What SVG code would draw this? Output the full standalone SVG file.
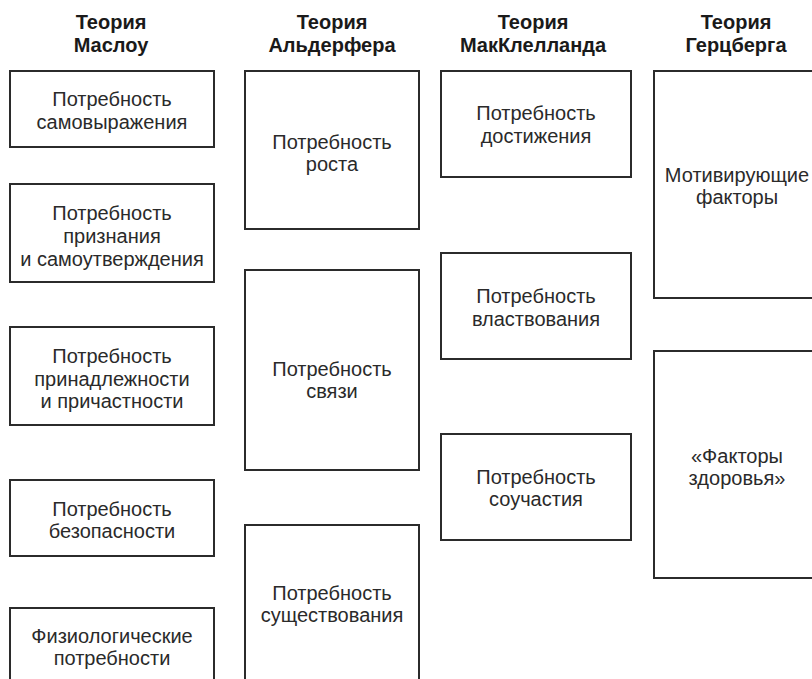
<svg xmlns="http://www.w3.org/2000/svg" width="812" height="679" viewBox="0 0 812 679">
<style>
  .box { fill: #ffffff; stroke: #2b2b2b; stroke-width: 2; }
  .t { font-family: "Liberation Sans", Arial, sans-serif; font-size: 20px; fill: #2a2a2a; text-anchor: middle; }
  .h { font-family: "Liberation Sans", Arial, sans-serif; font-size: 20px; font-weight: bold; fill: #1a1a1a; text-anchor: middle; }
</style>
<rect x="0" y="0" width="812" height="679" fill="#ffffff"/>
<g id="headers">
  <text class="h" x="111" y="29">Теория</text>
  <text class="h" x="111" y="52">Маслоу</text>
  <text class="h" x="332" y="29">Теория</text>
  <text class="h" x="332" y="52">Альдерфера</text>
  <text class="h" x="533" y="29">Теория</text>
  <text class="h" x="533" y="52">МакКлелланда</text>
  <text class="h" x="736" y="29">Теория</text>
  <text class="h" x="736" y="52">Герцберга</text>
</g>
<g id="connectors"></g>
<g id="maslow-1">
  <rect class="box" x="10" y="71" width="204" height="76"/>
  <text class="t" x="112" y="106">Потребность</text>
  <text class="t" x="112" y="128.5">самовыражения</text>
</g>
<g id="maslow-2">
  <rect class="box" x="10" y="184" width="204" height="98"/>
  <text class="t" x="112" y="219.5">Потребность</text>
  <text class="t" x="112" y="242.5">признания</text>
  <text class="t" x="112" y="265.5">и самоутверждения</text>
</g>
<g id="maslow-3">
  <rect class="box" x="10" y="327" width="204" height="98"/>
  <text class="t" x="112" y="363">Потребность</text>
  <text class="t" x="112" y="385.5">принадлежности</text>
  <text class="t" x="112" y="408">и причастности</text>
</g>
<g id="maslow-4">
  <rect class="box" x="10" y="480" width="204" height="76"/>
  <text class="t" x="112" y="515.5">Потребность</text>
  <text class="t" x="112" y="538">безопасности</text>
</g>
<g id="maslow-5">
  <rect class="box" x="10" y="608" width="204" height="90"/>
  <text class="t" x="112" y="642.5">Физиологические</text>
  <text class="t" x="112" y="665">потребности</text>
</g>
<g id="alderfer-1">
  <rect class="box" x="245" y="71" width="174" height="158"/>
  <text class="t" x="332" y="148.5">Потребность</text>
  <text class="t" x="332" y="170.5">роста</text>
</g>
<g id="alderfer-2">
  <rect class="box" x="245" y="270" width="174" height="200"/>
  <text class="t" x="332" y="375.5">Потребность</text>
  <text class="t" x="332" y="397.5">связи</text>
</g>
<g id="alderfer-3">
  <rect class="box" x="245" y="525" width="174" height="180"/>
  <text class="t" x="332" y="599.5">Потребность</text>
  <text class="t" x="332" y="622">существования</text>
</g>
<g id="mcclelland-1">
  <rect class="box" x="441" y="71" width="190" height="106"/>
  <text class="t" x="536" y="120">Потребность</text>
  <text class="t" x="536" y="142.5">достижения</text>
</g>
<g id="mcclelland-2">
  <rect class="box" x="441" y="253" width="190" height="106"/>
  <text class="t" x="536" y="303">Потребность</text>
  <text class="t" x="536" y="325.5">властвования</text>
</g>
<g id="mcclelland-3">
  <rect class="box" x="441" y="434" width="190" height="106"/>
  <text class="t" x="536" y="483.5">Потребность</text>
  <text class="t" x="536" y="506">соучастия</text>
</g>
<g id="herzberg-1">
  <rect class="box" x="654" y="71" width="200" height="227"/>
  <text class="t" x="737" y="181.5">Мотивирующие</text>
  <text class="t" x="737" y="203.5">факторы</text>
</g>
<g id="herzberg-2">
  <rect class="box" x="654" y="351" width="200" height="227"/>
  <text class="t" x="737" y="462.5">«Факторы</text>
  <text class="t" x="737" y="485">здоровья»</text>
</g>
</svg>
